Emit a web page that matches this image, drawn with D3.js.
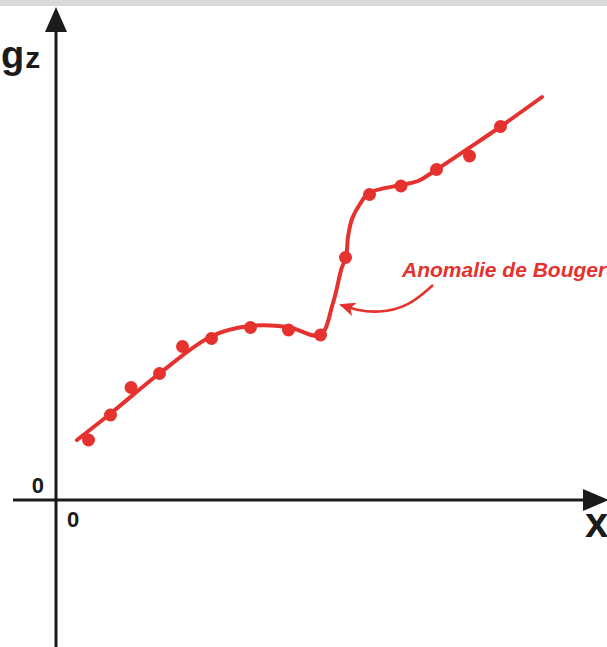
<!DOCTYPE html>
<html>
<head>
<meta charset="utf-8">
<script src="https://cdn.jsdelivr.net/npm/d3@7"></script>
<style>
  html, body { margin: 0; padding: 0; background: #fff; }
  svg { display: block; }
</style>
</head>
<body>
<script>
// Bouguer anomaly profile: measured stations and the smoothed anomaly curve
const stationX = [0.65, 1.09, 1.50, 2.07, 2.53, 3.11, 3.89, 4.65, 5.29, 5.79, 6.27, 6.90, 7.61, 8.27, 8.89];
const stationG = [1.20, 1.70, 2.25, 2.53, 3.07, 3.23, 3.45, 3.40, 3.30, 4.85, 6.11, 6.28, 6.61, 6.88, 7.47];

const curveX = [0.42, 1.08, 2.08, 3.12, 3.88, 4.64, 5.28, 5.54, 5.72, 5.80, 5.84, 5.92, 6.08, 6.26, 6.90, 7.24, 7.60, 8.26, 8.88, 9.72];
const curveG = [1.20, 1.72, 2.54, 3.28, 3.48, 3.46, 3.30, 3.94, 4.66, 4.84, 5.26, 5.62, 5.92, 6.14, 6.30, 6.38, 6.60, 7.04, 7.46, 8.06];

// leader from the label to the curve
const leaderX = [7.54, 7.04, 6.44, 6.00, 5.70];
const leaderG = [4.30, 3.86, 3.74, 3.80, 3.90];

const originLabels = ["0", "0"];
const axisTitles = { y: ["g", "z"], x: "x" };
const curveLabel = "Anomalie de Bouger";

const W = 607, H = 647;
const red = "#e5322f", ink = "#1b1b1b";

const x = d3.scaleLinear().domain([0, 11]).range([56, 606]);
const y = d3.scaleLinear().domain([0, 10]).range([500, 0]);

const svg = d3.select("body").append("svg").attr("width", W).attr("height", H);

svg.append("rect").attr("x", 0).attr("y", 0).attr("width", W).attr("height", 6).attr("fill", "#d9d9d9");

// axes
const axes = svg.append("g").attr("stroke", ink).attr("stroke-width", 3);
axes.append("line").attr("x1", x(0)).attr("x2", x(0)).attr("y1", y(9.4)).attr("y2", H);
axes.append("line").attr("x1", x(-0.86)).attr("x2", x(10.6)).attr("y1", y(0)).attr("y2", y(0));

svg.append("path")
  .attr("d", `M${x(0)},${y(9.86)} L${x(0) - 11},${y(9.36)} L${x(0) + 11},${y(9.36)} Z`)
  .attr("fill", ink);
svg.append("path")
  .attr("d", `M${x(11.06)},${y(0)} L${x(10.54)},${y(0) - 11} L${x(10.54)},${y(0) + 11} Z`)
  .attr("fill", ink);

// axis titles and origin labels
const gz = svg.append("text").attr("x", 1).attr("y", 68)
  .attr("font-family", "Liberation Sans, Arial, sans-serif").attr("font-weight", "bold").attr("fill", ink);
gz.append("tspan").attr("font-size", 38).text(axisTitles.y[0]);
gz.append("tspan").attr("font-size", 30).attr("dx", 1).text(axisTitles.y[1]);

svg.append("text").attr("x", 585).attr("y", 537)
  .attr("font-family", "Liberation Sans, Arial, sans-serif").attr("font-weight", "bold")
  .attr("font-size", 42).attr("fill", ink).text(axisTitles.x);

svg.append("text").attr("x", x(0) - 12).attr("y", y(0) - 7).attr("text-anchor", "end")
  .attr("font-family", "Liberation Sans, Arial, sans-serif").attr("font-weight", "bold")
  .attr("font-size", 22).attr("fill", ink).text(originLabels[1]);
svg.append("text").attr("x", x(0) + 11).attr("y", y(0) + 27)
  .attr("font-family", "Liberation Sans, Arial, sans-serif").attr("font-weight", "bold")
  .attr("font-size", 22).attr("fill", ink).text(originLabels[0]);

// anomaly curve
const line = d3.line().x(d => x(d[0])).y(d => y(d[1])).curve(d3.curveCatmullRom.alpha(0.5));
svg.append("path")
  .datum(d3.zip(curveX, curveG))
  .attr("d", line)
  .attr("fill", "none").attr("stroke", red).attr("stroke-width", 4)
  .attr("stroke-linecap", "round").attr("stroke-linejoin", "round");

// stations
svg.append("g").selectAll("circle")
  .data(d3.zip(stationX, stationG))
  .join("circle")
  .attr("cx", d => x(d[0])).attr("cy", d => y(d[1])).attr("r", 6.5)
  .attr("fill", red);

// label and leader arrow
svg.append("defs").append("marker")
  .attr("id", "head").attr("markerUnits", "userSpaceOnUse")
  .attr("viewBox", "0 0 16 14").attr("refX", 14).attr("refY", 7)
  .attr("markerWidth", 16).attr("markerHeight", 14).attr("orient", "auto")
  .append("path").attr("d", "M0,0 L16,7 L0,14 L4,7 Z").attr("fill", red);

svg.append("path")
  .datum(d3.zip(leaderX, leaderG))
  .attr("d", d3.line().x(d => x(d[0])).y(d => y(d[1])).curve(d3.curveBasis))
  .attr("fill", "none").attr("stroke", red).attr("stroke-width", 2.6)
  .attr("marker-end", "url(#head)");

svg.append("text").attr("x", 402).attr("y", 277)
  .attr("font-family", "Liberation Sans, Arial, sans-serif").attr("font-weight", "bold")
  .attr("font-style", "italic").attr("font-size", 21).attr("fill", red)
  .text(curveLabel);
</script>
</body>
</html>
